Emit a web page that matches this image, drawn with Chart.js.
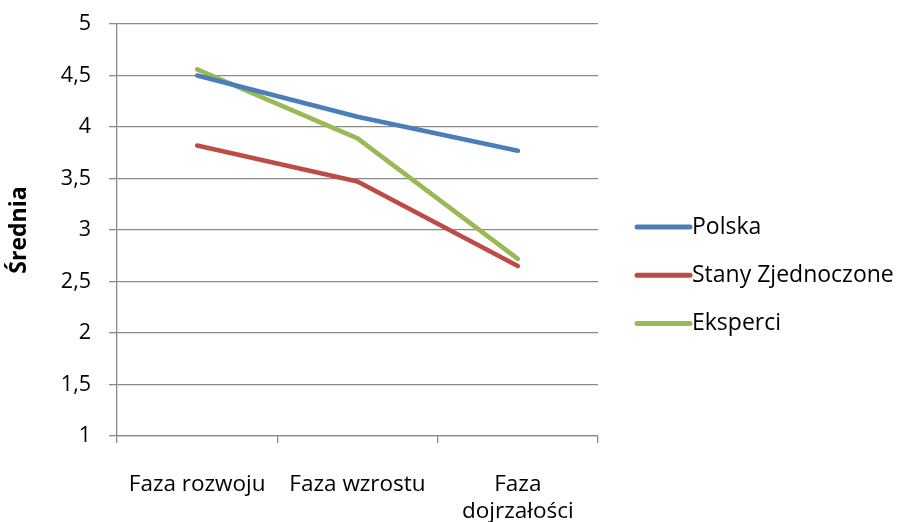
<!DOCTYPE html>
<html lang="pl">
<head>
    <meta charset="UTF-8">
    <title>Średnia</title>
    <script src="https://cdn.jsdelivr.net/npm/chart.js"></script>
    <style>
        html, body {
            margin: 0;
            padding: 0;
            background: #ffffff;
        }
        .chart-box {
            width: 897px;
            height: 522px;
        }
    </style>
</head>
<body>
    <div class="chart-box">
        <canvas id="lineChart" width="897" height="522"></canvas>
    </div>

    <script>
        // data
        const categories = [['Faza rozwoju'], ['Faza wzrostu'], ['Faza', 'dojrzałości']];
        const seriesNames = ['Polska', 'Stany Zjednoczone', 'Eksperci'];
        const polska = [4.50, 4.10, 3.77];
        const stanyZjednoczone = [3.82, 3.47, 2.65];
        const eksperci = [4.56, 3.89, 2.72];
        const yMin = 1;
        const yMax = 5;
        const yStep = 0.5;

        const colors = ['#4A7EBB', '#BE4B48', '#98B954'];
        const gridColor = '#8a8a8a';
        const fontFamily = '"Open Sans", Lato, sans-serif';

        // legend drawn by hand so it sits where the original one is
        const sideLegend = {
            id: 'sideLegend',
            afterDraw(chart) {
                const ctx = chart.ctx;
                const area = chart.chartArea;
                ctx.save();
                ctx.font = '23px ' + fontFamily;
                ctx.textBaseline = 'middle';
                ctx.textAlign = 'left';
                chart.data.datasets.forEach((ds, i) => {
                    const y = 227 + i * 48.3;
                    const x0 = area.right + 39;
                    ctx.strokeStyle = ds.borderColor;
                    ctx.lineWidth = 5;
                    ctx.lineCap = 'round';
                    ctx.beginPath();
                    ctx.moveTo(x0, y);
                    ctx.lineTo(x0 + 53, y);
                    ctx.stroke();
                    ctx.fillStyle = '#000000';
                    ctx.fillText(ds.label, x0 + 55, y);
                });
                ctx.restore();
            }
        };

        function makeSet(name, values, color) {
            return {
                label: name,
                data: values,
                borderColor: color,
                backgroundColor: color,
                borderWidth: 4.6,
                pointRadius: 0,
                pointHoverRadius: 0,
                tension: 0,
                borderJoinStyle: 'round',
                borderCapStyle: 'round'
            };
        }

        const ctx = document.getElementById('lineChart').getContext('2d');
        new Chart(ctx, {
            type: 'line',
            data: {
                labels: categories,
                datasets: [
                    makeSet(seriesNames[0], polska, colors[0]),
                    makeSet(seriesNames[1], stanyZjednoczone, colors[1]),
                    makeSet(seriesNames[2], eksperci, colors[2])
                ]
            },
            options: {
                responsive: false,
                animation: false,
                layout: {
                    padding: { left: 0, top: 24, right: 299, bottom: 0 }
                },
                plugins: {
                    legend: { display: false },
                    tooltip: { enabled: false }
                },
                scales: {
                    x: {
                        offset: true,
                        afterFit(scale) { scale.height = 86; },
                        grid: {
                            offset: true,
                            drawOnChartArea: false,
                            drawTicks: true,
                            tickLength: 7,
                            color: gridColor,
                            lineWidth: 1.3
                        },
                        border: { display: true, color: gridColor, width: 1.3 },
                        ticks: {
                            color: '#000000',
                            padding: 28,
                            maxRotation: 0,
                            autoSkip: false,
                            font: { family: fontFamily, size: 22.5 }
                        }
                    },
                    y: {
                        min: yMin,
                        max: yMax,
                        afterFit(scale) {
                            scale.width = 117;
                            scale.paddingTop = 0;
                            scale.paddingBottom = 0;
                        },
                        grid: {
                            color: gridColor,
                            lineWidth: 1.3,
                            tickLength: 8
                        },
                        border: { display: true, color: gridColor, width: 1.3 },
                        ticks: {
                            stepSize: yStep,
                            color: '#000000',
                            padding: 18,
                            font: { family: fontFamily, size: 21.5 },
                            callback: (value) => String(value).replace('.', ',')
                        },
                        title: {
                            display: true,
                            text: 'Średnia',
                            color: '#000000',
                            padding: { top: 6, bottom: 0 },
                            font: { family: fontFamily, size: 23, weight: 'bold' }
                        }
                    }
                }
            },
            plugins: [sideLegend]
        });
    </script>
</body>
</html>
